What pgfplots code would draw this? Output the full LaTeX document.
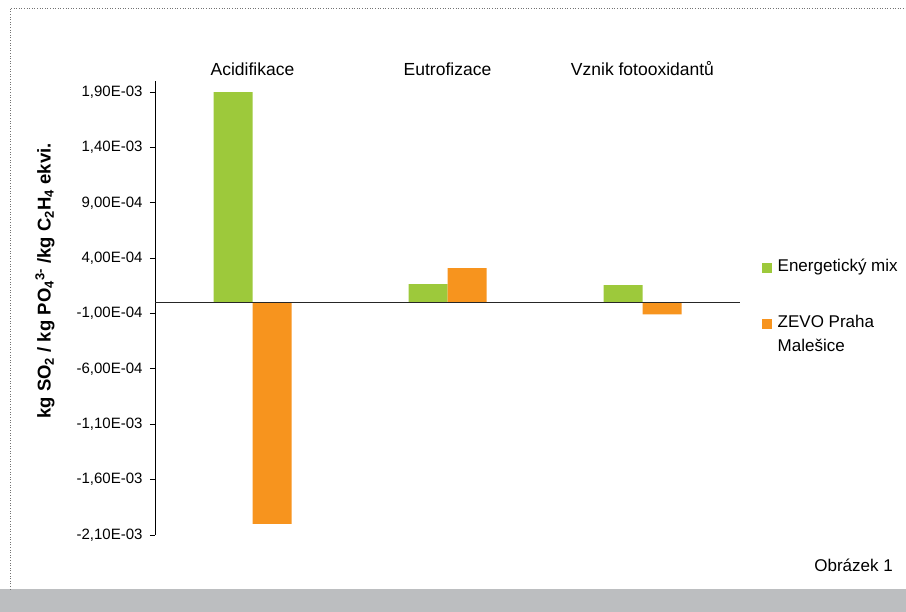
\documentclass[border=0pt]{standalone}
\usepackage{fontspec}
\setmainfont{Liberation Sans}
\usepackage{pgfplots}
\pgfplotsset{compat=1.18}
\definecolor{mixgreen}{RGB}{157,201,59}
\definecolor{zevoorange}{RGB}{247,148,30}
\definecolor{bandgray}{RGB}{188,190,192}
\begin{document}
\begin{tikzpicture}[x=1pt,y=1pt]
\useasboundingbox (0,0) rectangle (906,612);
\fill[bandgray] (0,0) rectangle (906,22.7);
\draw[dotted, line width=0.6pt, black!55] (10,22.7) -- (10,604) -- (906,604);
\begin{axis}[
  at={(155pt,77pt)}, anchor=south west,
  width=585pt, height=454pt, scale only axis,
  xmin=-0.5, xmax=2.5, ymin=-2.1e-3, ymax=2.0e-3,
  ybar=0pt, bar width=39pt,
  axis x line*=top, axis y line*=left,
  x axis line style={draw=none},
  y axis line style={line width=1pt, black},
  xtick={0,1,2},
  xticklabels={Acidifikace,Eutrofizace,Vznik fotooxidantů},
  xticklabel style={font=\fontsize{17.5}{20}\selectfont, yshift=-3pt},
  x tick style={draw=none},
  ytick={-2.1e-3,-1.6e-3,-1.1e-3,-6e-4,-1e-4,4e-4,9e-4,1.4e-3,1.9e-3},
  yticklabels={{-2,10E-03},{-1,60E-03},{-1,10E-03},{-6,00E-04},{-1,00E-04},{4,00E-04},{9,00E-04},{1,40E-03},{1,90E-03}},
  yticklabel style={font=\fontsize{15}{18}\selectfont, xshift=-4pt},
  scaled y ticks=false,
  tick align=outside, major tick length=5pt,
  y tick style={line width=0.8pt, black},
  legend style={at={(1.0376,0.608)}, anchor=north west, draw=none, fill=none,
    inner sep=0pt, nodes={inner sep=0pt}, column sep=6pt, row sep=38pt,
    font=\fontsize{17}{23.5}\selectfont, cells={anchor=base west}},
  legend image code/.code={\fill[#1] (0pt,-1pt) rectangle (9.5pt,8.5pt);},
]
\addplot[fill=mixgreen, draw=none] coordinates {(0,1.9e-3) (1,1.65e-4) (2,1.56e-4)};
\addplot[fill=zevoorange, draw=none] coordinates {(0,-2.0e-3) (1,3.1e-4) (2,-1.08e-4)};
\legend{Energetický mix,{\begin{tabular}[t]{@{}l@{}}ZEVO Praha\\Malešice\end{tabular}}}
\draw[line width=1.2pt, black!85] (axis cs:-0.5,0) -- (axis cs:2.5,0);
\end{axis}
\node[rotate=90, font=\bfseries\fontsize{18.5}{22}\selectfont] at (45,331) {kg SO\textsubscript{2} / kg PO\textsubscript{4}\textsuperscript{3-} /kg C\textsubscript{2}H\textsubscript{4} ekvi.};
\node[anchor=base east, font=\fontsize{17}{20}\selectfont, inner sep=0pt] at (893,40.3) {Obrázek 1};
\end{tikzpicture}
\end{document}
